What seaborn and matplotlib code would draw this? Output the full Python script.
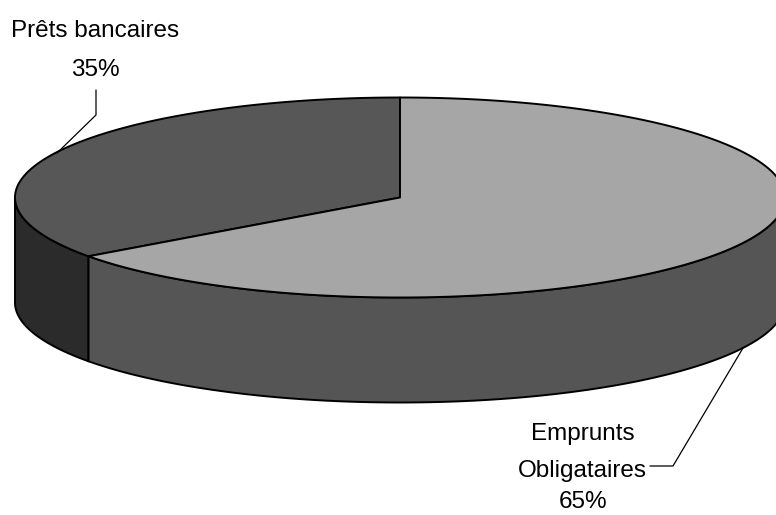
import numpy as np
import matplotlib
matplotlib.use("Agg")
import matplotlib.pyplot as plt
from matplotlib.patches import Polygon
import seaborn as sns

# Financing structure
categories = ["Prêts bancaires", "Emprunts\nObligataires"]
shares = [35, 65]

sns.set_theme(style="white")
plt.rcParams["font.family"] = ["Liberation Sans Narrow", "Liberation Sans", "DejaVu Sans"]

top_colors = ["#575757", "#a6a6a6"]
side_colors = ["#2b2b2b", "#555555"]

W, H = 776, 515
fig = plt.figure(figsize=(W / 100, H / 100), dpi=100)
ax = fig.add_axes([0, 0, 1, 1])
ax.set_xlim(0, W)
ax.set_ylim(H, 0)
ax.axis("off")

# Projected disc geometry (pixel units)
cx, cy, rx, ry, depth = 400, 197.5, 385, 100, 105


def rim(t_deg, dy=0.0):
    t = np.radians(t_deg)
    return np.column_stack([cx + rx * np.cos(t), cy - ry * np.sin(t) + dy])


total = float(sum(shares))
starts, ends = [], []
a = 90.0
for v in shares:
    starts.append(a)
    a += 360.0 * v / total
    ends.append(a)

# Front walls of each wedge (only the near half of the rim is visible)
for s, e, col in zip(starts, ends, side_colors):
    lo, hi = max(s, 180.0), min(e, 360.0)
    if hi <= lo:
        continue
    t = np.linspace(lo, hi, 200)
    poly = np.vstack([rim(t), rim(t[::-1], depth)])
    ax.add_patch(Polygon(poly, closed=True, facecolor=col, edgecolor="black",
                         linewidth=1.4, joinstyle="round"))

# Top faces
for s, e, col in zip(starts, ends, top_colors):
    t = np.linspace(s, e, 300)
    poly = np.vstack([[cx, cy], rim(t)])
    ax.add_patch(Polygon(poly, closed=True, facecolor=col, edgecolor="black",
                         linewidth=1.4, joinstyle="round"))

fs = 17.5
pct = [f"{v / total * 100:.0f}%" for v in shares]
txt = dict(ha="center", va="baseline", fontsize=fs, color="black")

# Label for the first wedge with its leader line
ax.text(95, 37, categories[0], **txt)
ax.text(95, 76, pct[0], **txt)
ax.plot([96, 96, 57], [90, 115, 153], color="black", linewidth=0.9)

# Label for the second wedge with its leader line
line1, line2 = categories[1].split("\n")
ax.text(583, 440, line1, **txt)
ax.text(582, 477, line2, **txt)
ax.text(583, 508, pct[1], **txt)
ax.plot([650, 673, 743], [466, 466, 348], color="black", linewidth=0.9)

fig.savefig("out.png", dpi=100, facecolor="white")
